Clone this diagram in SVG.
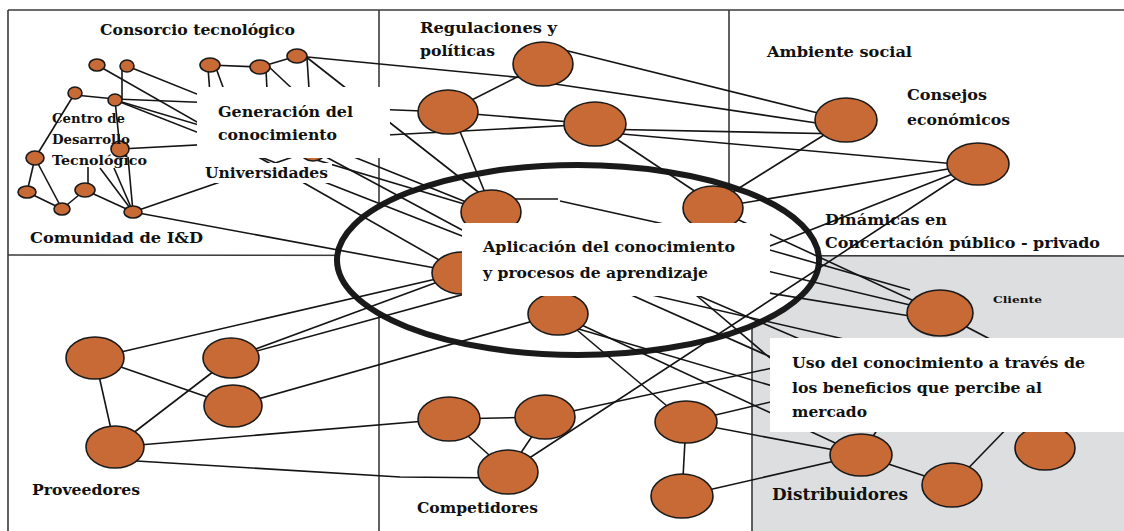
<svg xmlns="http://www.w3.org/2000/svg" width="1124" height="531" viewBox="0 0 1124 531">
<style>
.ln{stroke:#141414;stroke-width:1.6;fill:none}
.nd{fill:#c86a36;stroke:#1a1a1a;stroke-width:1.6}
.fr{stroke:#3a3a3a;stroke-width:1.6;fill:none}
.bx{fill:#ffffff;stroke:none}
.lb{font-family:"DejaVu Serif","Liberation Serif",serif;font-weight:bold;font-size:15px;fill:#111}
.sm{font-size:13px}
.xs{font-size:10px}
.lg{font-size:17px}
</style>
<rect x="0" y="0" width="1124" height="531" fill="#ffffff"/>
<g id="regions">
<rect x="752" y="256" width="372" height="275" fill="#dddee0"/>
<line class="fr" x1="8" y1="10" x2="1124" y2="10"/>
<line class="fr" x1="8" y1="10" x2="8" y2="531"/>
<line class="fr" x1="379" y1="10" x2="379" y2="531"/>
<line class="fr" x1="729" y1="10" x2="729" y2="200"/>
<line class="fr" x1="8" y1="255" x2="1124" y2="256"/>
<line class="fr" x1="752" y1="256" x2="752" y2="531"/>
</g>
<g id="ring">
<ellipse cx="578" cy="260" rx="241" ry="95" fill="#ffffff" stroke="#1a1a1a" stroke-width="6"/>
</g>
<g id="connectors">
<line class="ln" x1="122" y1="66" x2="122" y2="100"/>
<line class="ln" x1="75" y1="95" x2="115" y2="99"/>
<line class="ln" x1="115" y1="99" x2="448" y2="112"/>
<line class="ln" x1="75" y1="93" x2="35" y2="158"/>
<line class="ln" x1="115" y1="100" x2="120" y2="149"/>
<line class="ln" x1="97" y1="65" x2="462" y2="273"/>
<line class="ln" x1="127" y1="66" x2="491" y2="212"/>
<line class="ln" x1="115" y1="100" x2="491" y2="212"/>
<line class="ln" x1="115" y1="100" x2="480" y2="243"/>
<line class="ln" x1="120" y1="149" x2="595" y2="124"/>
<line class="ln" x1="35" y1="158" x2="27" y2="192"/>
<line class="ln" x1="35" y1="158" x2="62" y2="209"/>
<line class="ln" x1="27" y1="192" x2="62" y2="209"/>
<line class="ln" x1="62" y1="209" x2="85" y2="190"/>
<line class="ln" x1="85" y1="190" x2="133" y2="212"/>
<line class="ln" x1="88" y1="190" x2="88" y2="167"/>
<line class="ln" x1="133" y1="212" x2="100" y2="168"/>
<line class="ln" x1="133" y1="212" x2="114" y2="168"/>
<line class="ln" x1="133" y1="212" x2="128" y2="157"/>
<line class="ln" x1="133" y1="212" x2="313" y2="150"/>
<line class="ln" x1="133" y1="212" x2="462" y2="273"/>
<line class="ln" x1="210" y1="65" x2="260" y2="67"/>
<line class="ln" x1="260" y1="67" x2="297" y2="56"/>
<line class="ln" x1="208" y1="68" x2="212" y2="120"/>
<line class="ln" x1="216" y1="68" x2="235" y2="120"/>
<line class="ln" x1="266" y1="70" x2="270" y2="150"/>
<line class="ln" x1="268" y1="66" x2="315" y2="110"/>
<line class="ln" x1="307" y1="58" x2="313" y2="150"/>
<line class="ln" x1="305" y1="56" x2="482" y2="195"/>
<line class="ln" x1="297" y1="56" x2="525" y2="78"/>
<line class="ln" x1="313" y1="150" x2="490" y2="245"/>
<line class="ln" x1="543" y1="64" x2="448" y2="112"/>
<line class="ln" x1="448" y1="112" x2="595" y2="124"/>
<line class="ln" x1="452" y1="112" x2="488" y2="200"/>
<line class="ln" x1="560" y1="49" x2="830" y2="116"/>
<line class="ln" x1="555" y1="84" x2="830" y2="125"/>
<line class="ln" x1="595" y1="129" x2="846" y2="134"/>
<line class="ln" x1="600" y1="132" x2="978" y2="166"/>
<line class="ln" x1="600" y1="128" x2="705" y2="198"/>
<line class="ln" x1="840" y1="125" x2="720" y2="200"/>
<line class="ln" x1="978" y1="164" x2="713" y2="208"/>
<line class="ln" x1="978" y1="164" x2="760" y2="250"/>
<line class="ln" x1="978" y1="164" x2="508" y2="472"/>
<line class="ln" x1="491" y1="199" x2="558" y2="199"/>
<line class="ln" x1="560" y1="201" x2="700" y2="232"/>
<line class="ln" x1="713" y1="208" x2="940" y2="313"/>
<line class="ln" x1="700" y1="230" x2="910" y2="290"/>
<line class="ln" x1="700" y1="255" x2="910" y2="305"/>
<line class="ln" x1="720" y1="285" x2="910" y2="316"/>
<line class="ln" x1="690" y1="292" x2="860" y2="365"/>
<line class="ln" x1="630" y1="290" x2="870" y2="345"/>
<line class="ln" x1="620" y1="290" x2="800" y2="370"/>
<line class="ln" x1="690" y1="290" x2="770" y2="358"/>
<line class="ln" x1="940" y1="313" x2="1030" y2="360"/>
<line class="ln" x1="95" y1="358" x2="115" y2="447"/>
<line class="ln" x1="95" y1="358" x2="233" y2="406"/>
<line class="ln" x1="115" y1="447" x2="231" y2="358"/>
<line class="ln" x1="95" y1="358" x2="462" y2="273"/>
<line class="ln" x1="231" y1="358" x2="462" y2="273"/>
<line class="ln" x1="231" y1="358" x2="560" y2="268"/>
<line class="ln" x1="233" y1="406" x2="558" y2="314"/>
<line class="ln" x1="115" y1="447" x2="449" y2="419"/>
<polyline class="ln" points="120,460 400,477 508,478"/>
<line class="ln" x1="449" y1="419" x2="545" y2="417"/>
<line class="ln" x1="449" y1="419" x2="508" y2="472"/>
<line class="ln" x1="545" y1="417" x2="508" y2="472"/>
<line class="ln" x1="545" y1="417" x2="800" y2="362"/>
<line class="ln" x1="558" y1="314" x2="686" y2="422"/>
<line class="ln" x1="558" y1="314" x2="861" y2="455"/>
<line class="ln" x1="565" y1="325" x2="820" y2="400"/>
<line class="ln" x1="686" y1="422" x2="682" y2="496"/>
<line class="ln" x1="686" y1="422" x2="861" y2="455"/>
<line class="ln" x1="686" y1="422" x2="800" y2="395"/>
<line class="ln" x1="682" y1="496" x2="861" y2="455"/>
<line class="ln" x1="861" y1="455" x2="952" y2="485"/>
<line class="ln" x1="952" y1="485" x2="1015" y2="420"/>
<line class="ln" x1="861" y1="455" x2="890" y2="410"/>
</g>
<g id="nodes">
<g id="n1"><ellipse class="nd" cx="97" cy="65" rx="8" ry="6"/></g>
<g id="n2"><ellipse class="nd" cx="127" cy="66" rx="7" ry="6"/></g>
<g id="n3"><ellipse class="nd" cx="75" cy="93" rx="7" ry="6"/></g>
<g id="n4"><ellipse class="nd" cx="115" cy="100" rx="7" ry="6"/></g>
<g id="n5"><ellipse class="nd" cx="35" cy="158" rx="9" ry="7"/></g>
<g id="n6"><ellipse class="nd" cx="120" cy="149" rx="9" ry="8"/></g>
<g id="n7"><ellipse class="nd" cx="27" cy="192" rx="9" ry="6"/></g>
<g id="n8"><ellipse class="nd" cx="85" cy="190" rx="10" ry="7"/></g>
<g id="n9"><ellipse class="nd" cx="62" cy="209" rx="8" ry="6"/></g>
<g id="n10"><ellipse class="nd" cx="133" cy="212" rx="9" ry="6"/></g>
<g id="n11"><ellipse class="nd" cx="210" cy="65" rx="10" ry="7"/></g>
<g id="n12"><ellipse class="nd" cx="260" cy="67" rx="10" ry="7"/></g>
<g id="n13"><ellipse class="nd" cx="297" cy="56" rx="10" ry="7"/></g>
<g id="n14"><ellipse class="nd" cx="313" cy="152" rx="12" ry="9"/></g>
<g id="R1"><ellipse class="nd" cx="543" cy="64" rx="30" ry="22"/></g>
<g id="R2"><ellipse class="nd" cx="448" cy="112" rx="30" ry="22"/></g>
<g id="R3"><ellipse class="nd" cx="595" cy="124" rx="31" ry="22"/></g>
<g id="E1"><ellipse class="nd" cx="491" cy="212" rx="30" ry="22"/></g>
<g id="E2"><ellipse class="nd" cx="713" cy="208" rx="30" ry="22"/></g>
<g id="E3"><ellipse class="nd" cx="462" cy="273" rx="30" ry="21"/></g>
<g id="E4"><ellipse class="nd" cx="558" cy="314" rx="30" ry="21"/></g>
<g id="A1"><ellipse class="nd" cx="846" cy="120" rx="31" ry="22"/></g>
<g id="A2"><ellipse class="nd" cx="978" cy="164" rx="31" ry="21"/></g>
<g id="C1"><ellipse class="nd" cx="940" cy="313" rx="33" ry="23"/></g>
<g id="D1"><ellipse class="nd" cx="861" cy="455" rx="31" ry="21"/></g>
<g id="D2"><ellipse class="nd" cx="952" cy="485" rx="30" ry="22"/></g>
<g id="D3"><ellipse class="nd" cx="1045" cy="448" rx="30" ry="22"/></g>
<g id="P1"><ellipse class="nd" cx="95" cy="358" rx="29" ry="21"/></g>
<g id="P2"><ellipse class="nd" cx="231" cy="358" rx="28" ry="20"/></g>
<g id="P3"><ellipse class="nd" cx="233" cy="406" rx="29" ry="21"/></g>
<g id="P4"><ellipse class="nd" cx="115" cy="447" rx="29" ry="21"/></g>
<g id="K1"><ellipse class="nd" cx="449" cy="419" rx="31" ry="22"/></g>
<g id="K2"><ellipse class="nd" cx="545" cy="417" rx="30" ry="22"/></g>
<g id="K3"><ellipse class="nd" cx="508" cy="472" rx="30" ry="22"/></g>
<g id="M1"><ellipse class="nd" cx="686" cy="422" rx="31" ry="21"/></g>
<g id="M2"><ellipse class="nd" cx="682" cy="496" rx="31" ry="22"/></g>
</g>
<g id="boxes">
<rect class="bx" x="197" y="87" width="193" height="71"/>
<rect class="bx" x="202" y="163" width="130" height="20"/>
<rect class="bx" x="462" y="223" width="308" height="73"/>
<rect class="bx" x="770" y="338" width="354" height="94"/>
</g>
<g id="labels">
<text class="lb" x="100" y="35" textLength="195" lengthAdjust="spacingAndGlyphs">Consorcio tecnológico</text>
<text class="lb sm" x="52" y="123" textLength="73" lengthAdjust="spacingAndGlyphs">Centro de</text>
<text class="lb sm" x="52" y="144" textLength="78" lengthAdjust="spacingAndGlyphs">Desarrollo</text>
<text class="lb sm" x="52" y="165" textLength="95" lengthAdjust="spacingAndGlyphs">Tecnológico</text>
<text class="lb" x="218" y="117" textLength="135" lengthAdjust="spacingAndGlyphs">Generación del</text>
<text class="lb" x="218" y="140" textLength="119" lengthAdjust="spacingAndGlyphs">conocimiento</text>
<text class="lb" x="205" y="178" textLength="123" lengthAdjust="spacingAndGlyphs">Universidades</text>
<text class="lb" x="30" y="243" textLength="173" lengthAdjust="spacingAndGlyphs">Comunidad de I&amp;D</text>
<text class="lb" x="420" y="33" textLength="137" lengthAdjust="spacingAndGlyphs">Regulaciones y</text>
<text class="lb" x="420" y="56" textLength="75" lengthAdjust="spacingAndGlyphs">políticas</text>
<text class="lb" x="767" y="57" textLength="145" lengthAdjust="spacingAndGlyphs">Ambiente social</text>
<text class="lb" x="907" y="100" textLength="80" lengthAdjust="spacingAndGlyphs">Consejos</text>
<text class="lb" x="907" y="125" textLength="103" lengthAdjust="spacingAndGlyphs">económicos</text>
<text class="lb" x="825" y="225" textLength="122" lengthAdjust="spacingAndGlyphs">Dinámicas en</text>
<text class="lb" x="825" y="248" textLength="275" lengthAdjust="spacingAndGlyphs">Concertación público - privado</text>
<text class="lb" x="483" y="252" textLength="252" lengthAdjust="spacingAndGlyphs">Aplicación del conocimiento</text>
<text class="lb" x="483" y="278" textLength="225" lengthAdjust="spacingAndGlyphs">y procesos de aprendizaje</text>
<text class="lb xs" x="993" y="303" textLength="49" lengthAdjust="spacingAndGlyphs">Cliente</text>
<text class="lb" x="792" y="368" textLength="293" lengthAdjust="spacingAndGlyphs">Uso del conocimiento a través de</text>
<text class="lb" x="792" y="393" textLength="250" lengthAdjust="spacingAndGlyphs">los beneficios que percibe al</text>
<text class="lb" x="792" y="417" textLength="75" lengthAdjust="spacingAndGlyphs">mercado</text>
<text class="lb" x="32" y="495" textLength="108" lengthAdjust="spacingAndGlyphs">Proveedores</text>
<text class="lb" x="417" y="513" textLength="121" lengthAdjust="spacingAndGlyphs">Competidores</text>
<text class="lb lg" x="772" y="500" textLength="136" lengthAdjust="spacingAndGlyphs">Distribuidores</text>
</g>
</svg>
